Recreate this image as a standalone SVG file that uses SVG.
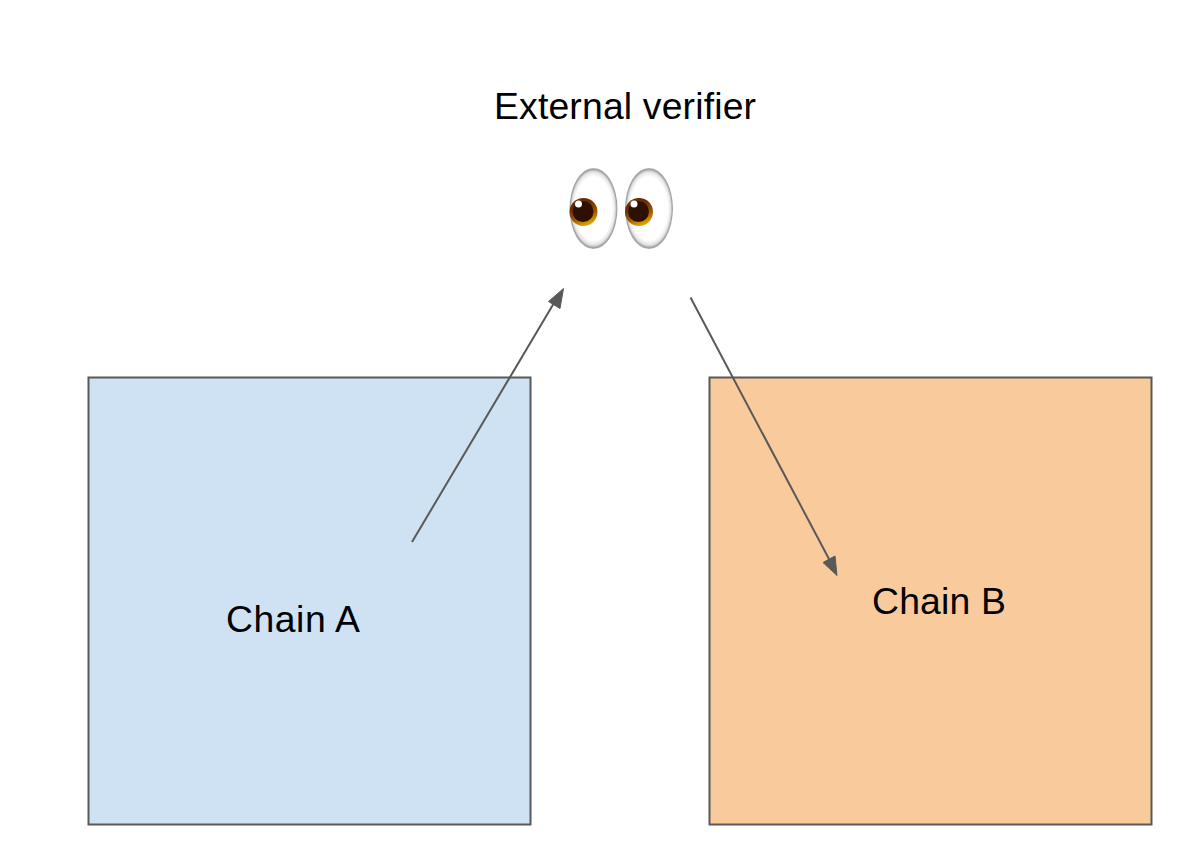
<svg xmlns="http://www.w3.org/2000/svg" width="1202" height="860" viewBox="0 0 1202 860">
<style>
.box{stroke:#595959;stroke-width:2}
.lbl{font-family:"Liberation Sans",Arial,sans-serif;font-size:37.33px;fill:#000}
.conn{fill:none;stroke:#595959;stroke-width:2}
.head{fill:#595959;stroke:#595959;stroke-width:1;stroke-linejoin:round}
.white{fill:url(#eyeWhite)}
.ring{fill:url(#iris)}
.pupil{fill:#2e1000}
.glint{fill:#fff}
</style>
<defs>
<radialGradient id="eyeWhite" cx="0.5" cy="0.5" r="0.5">
<stop offset="0.78" stop-color="#ffffff"/>
<stop offset="0.9" stop-color="#e4e4e4"/>
<stop offset="0.97" stop-color="#a0a0a0"/>
<stop offset="1" stop-color="#b4b4b4"/>
</radialGradient>
<linearGradient id="iris" x1="0.3" y1="0" x2="0.7" y2="1">
<stop offset="0.25" stop-color="#6a2c00"/>
<stop offset="0.65" stop-color="#a05c00"/>
<stop offset="1" stop-color="#f0b400"/>
</linearGradient>
</defs>
<rect width="1202" height="860" fill="#fff"/>
<g id="chain-a">
<rect class="box" x="88.500" y="377.500" width="442" height="447" fill="#cfe2f3"/>
<text class="lbl" x="226" y="632" textLength="134">Chain A</text>
</g>
<g id="chain-b">
<rect class="box" x="709.500" y="377.500" width="442" height="447" fill="#f9cb9c"/>
<text class="lbl" x="872" y="614" textLength="134">Chain B</text>
</g>
<g id="external-verifier">
<text class="lbl" x="494" y="119" textLength="262">External verifier</text>
<ellipse class="white" cx="593.500" cy="208.500" rx="24" ry="40.500"/>
<ellipse class="white" cx="649" cy="208.500" rx="24" ry="40.500"/>
<circle class="ring" cx="583.500" cy="212" r="14"/>
<circle class="pupil" cx="583" cy="211.500" r="10.500"/>
<circle class="glint" cx="578.500" cy="204" r="3.500"/>
<circle class="ring" cx="639" cy="212" r="14"/>
<circle class="pupil" cx="638.500" cy="211.500" r="10.500"/>
<circle class="glint" cx="634" cy="204" r="3.500"/>
</g>
<g id="connectors">
<path class="conn" d="M412 542L554 303"/>
<polygon class="head" points="563.500,288.500 548.500,301.500 560,308.500"/>
<path class="conn" d="M690.500 297.500L829 559"/>
<polygon class="head" points="837,575.500 823,562.500 835,556"/>
</g>
</svg>
